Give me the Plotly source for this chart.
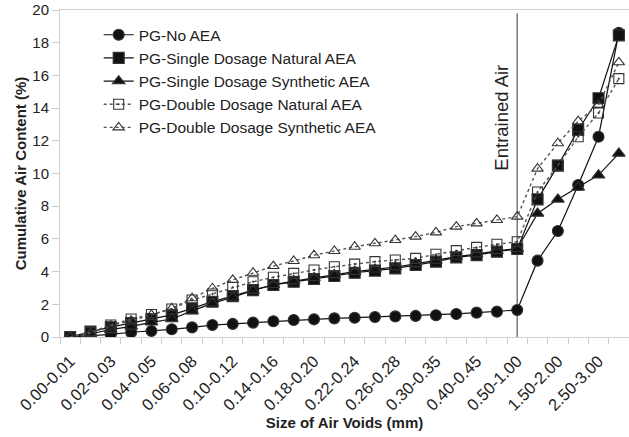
import plotly.graph_objects as go

# Air void size classes (mm)
categories = ["0.00-0.01", "0.01-0.02", "0.02-0.03", "0.03-0.04", "0.04-0.05", "0.05-0.06",
              "0.06-0.08", "0.08-0.10", "0.10-0.12", "0.12-0.14", "0.14-0.16", "0.16-0.18",
              "0.18-0.20", "0.20-0.22", "0.22-0.24", "0.24-0.26", "0.26-0.28", "0.28-0.30",
              "0.30-0.35", "0.35-0.40", "0.40-0.45", "0.45-0.50", "0.50-1.00", "1.00-1.50",
              "1.50-2.00", "2.00-2.50", "2.50-3.00", "3.00-4.00"]

# only every second class is labelled on the axis
tick_labels = [c if i % 2 == 0 else "" for i, c in enumerate(categories)]

no_aea = [0.0, 0.06, 0.16, 0.29, 0.37, 0.47, 0.59, 0.73, 0.80, 0.88, 0.96, 1.04, 1.08, 1.14,
          1.18, 1.22, 1.26, 1.29, 1.33, 1.41, 1.49, 1.55, 1.65, 4.67, 6.48, 9.30, 12.25, 18.6]
single_natural = [0.0, 0.33, 0.60, 0.85, 1.10, 1.35, 1.75, 2.16, 2.50, 2.87, 3.18, 3.38, 3.55, 3.73,
                  3.93, 4.06, 4.20, 4.40, 4.61, 4.87, 5.01, 5.22, 5.38, 8.42, 10.48, 12.66, 14.6, 18.45]
single_synthetic = [0.0, 0.20, 0.45, 0.65, 0.90, 1.10, 1.60, 2.06, 2.43, 2.85, 3.20, 3.42, 3.62, 3.80,
                    4.00, 4.14, 4.28, 4.47, 4.68, 4.92, 5.07, 5.27, 5.40, 7.56, 8.42, 9.15, 9.90, 11.23]
double_natural = [0.0, 0.30, 0.73, 1.10, 1.38, 1.71, 2.26, 2.63, 3.04, 3.38, 3.65, 3.89, 4.10, 4.30,
                  4.46, 4.61, 4.71, 4.81, 5.06, 5.28, 5.48, 5.67, 5.83, 8.87, 10.5, 12.25, 13.7, 15.8]
double_synthetic = [0.0, 0.22, 0.70, 1.00, 1.35, 1.75, 2.37, 2.98, 3.49, 3.93, 4.34, 4.65, 5.00, 5.26,
                    5.52, 5.73, 5.93, 6.14, 6.40, 6.75, 6.95, 7.16, 7.36, 10.3, 11.85, 13.2, 14.2, 16.8]

entrained_limit = "0.50-1.00"

series = [
    ("PG-No AEA", no_aea, "circle", "solid"),
    ("PG-Single Dosage Natural AEA", single_natural, "square", "solid"),
    ("PG-Single Dosage Synthetic AEA", single_synthetic, "triangle-up", "solid"),
    ("PG-Double Dosage Natural AEA", double_natural, "square-open-dot", "dot"),
    ("PG-Double Dosage Synthetic AEA", double_synthetic, "triangle-up-open", "dot"),
]

font = "Liberation Sans, Arial, sans-serif"
fig = go.Figure()

# vertical separator for entrained air
fig.add_trace(go.Scatter(x=[entrained_limit, entrained_limit], y=[0, 19.8], mode="lines",
                         line=dict(color="#7a7a7a", width=1.5), showlegend=False, hoverinfo="skip"))

for name, vals, sym, dash in series:
    is_open = "open" in sym
    fig.add_trace(go.Scatter(
        x=categories, y=vals, name=name, mode="lines+markers",
        line=dict(color="#555555" if is_open else "#111111", width=1.4 if is_open else 1.2, dash=dash),
        marker=dict(symbol=sym, size=10 if is_open else 11, color="#111111" if not is_open else "#333333",
                    line=dict(width=1.1, color="#333333")),
    ))

fig.add_annotation(x=categories.index(entrained_limit), y=13.4, text="Entrained Air", textangle=-90,
                   showarrow=False, xanchor="right", yanchor="middle", xshift=-3,
                   font=dict(family=font, size=18.5, color="#222222"))

fig.update_layout(
    width=629, height=437,
    margin=dict(l=60, r=0, t=10, b=100),
    plot_bgcolor="white", paper_bgcolor="white",
    font=dict(family=font, size=15, color="#222222"),
    showlegend=True,
    legend=dict(x=0.068, y=0.975, xanchor="left", yanchor="top", bgcolor="rgba(0,0,0,0)",
                font=dict(size=15.5), tracegroupgap=0),
)
fig.update_xaxes(
    type="category", categoryorder="array", categoryarray=categories,
    tickmode="array", tickvals=categories, ticktext=tick_labels, tickangle=-45,
    tickson="boundaries", ticks="outside", ticklen=6, tickcolor="#cccccc",
    showline=True, linecolor="#d0d0d0", linewidth=1, mirror=True, showgrid=False,
    range=[-0.5, len(categories) - 0.5], tickfont=dict(size=16.5), automargin=False,
    ticklabelstandoff=7,
    title=dict(text="<b>Size of Air Voids (mm)</b>", font=dict(size=15), standoff=2),
)
fig.update_yaxes(
    range=[0, 20], dtick=2, ticks="outside", ticklen=7, tickcolor="#cccccc",
    showline=True, linecolor="#d0d0d0", linewidth=1, showgrid=False, zeroline=False,
    tickfont=dict(size=15), automargin=False,
    title=dict(text="<b>Cumulative Air Content (%)</b>", font=dict(size=15), standoff=2),
)

# drop the default page margin so the figure sits at the window's top-left corner
fig.write_html("out.html", config={"displayModeBar": False},
               post_script="document.body.style.margin = '0';")
